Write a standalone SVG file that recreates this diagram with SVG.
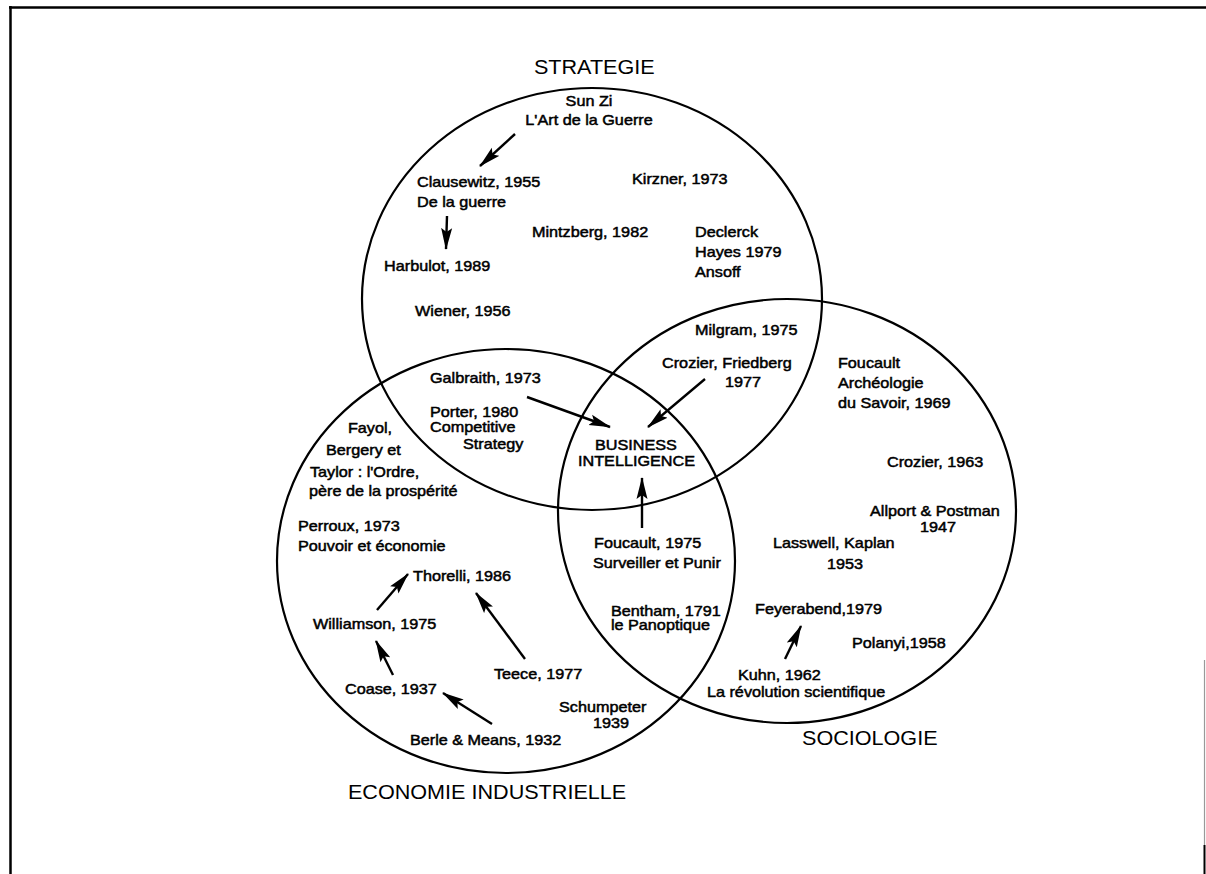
<svg xmlns="http://www.w3.org/2000/svg" width="1206" height="874" viewBox="0 0 1206 874">
  <style>
    .frame { stroke: #000; stroke-width: 2.5; fill: none; }
    .domain { fill: none; stroke: #000; stroke-width: 2.2; }
    .title { font-family: "Liberation Sans", Arial, sans-serif; font-size: 20px; fill: #000; }
    .lbl { font-family: "Liberation Sans", Arial, sans-serif; font-size: 15px; fill: #000; stroke: #000; stroke-width: 0.5; }
    .mid { text-anchor: middle; }
    .link { stroke: #000; stroke-width: 2.4; fill: none; marker-end: url(#head); }
  </style>
  <defs>
    <marker id="head" markerUnits="userSpaceOnUse" markerWidth="22" markerHeight="12" refX="21" refY="6" orient="auto">
      <path d="M0,0.5 L22,6 L0,11.5 L4,6 Z" fill="#000"/>
    </marker>
  </defs>

  <rect width="1206" height="874" fill="#fff"/>

  <!-- page frame -->
  <g id="frame">
    <line class="frame" x1="9" y1="7.5" x2="1206" y2="7.5"/>
    <line class="frame" x1="10.5" y1="6" x2="10.5" y2="874"/>
    <line x1="1204.5" y1="660" x2="1204.5" y2="845" stroke="#999" stroke-width="1.2"/>
    <line x1="1204.5" y1="845" x2="1204.5" y2="874" stroke="#000" stroke-width="2"/>
  </g>

  <!-- the three fields -->
  <g id="strategie">
    <ellipse class="domain" cx="592" cy="299" rx="230" ry="211"/>
  </g>
  <g id="economie">
    <ellipse class="domain" cx="506" cy="561" rx="229" ry="212"/>
  </g>
  <g id="sociologie">
    <ellipse class="domain" cx="787" cy="511" rx="229" ry="212"/>
  </g>

  <!-- influence arrows -->
  <g id="connectors">
    <line class="link" x1="515" y1="134" x2="480" y2="166"/>
    <line class="link" x1="447" y1="216" x2="446" y2="249"/>
    <line class="link" x1="527" y1="397" x2="610" y2="427"/>
    <line class="link" x1="705" y1="379" x2="648" y2="427"/>
    <line class="link" x1="642" y1="528" x2="642" y2="478"/>
    <line class="link" x1="377" y1="610" x2="408" y2="574"/>
    <line class="link" x1="525" y1="659" x2="476" y2="593"/>
    <line class="link" x1="393" y1="675" x2="376" y2="641"/>
    <line class="link" x1="492" y1="724" x2="443" y2="693"/>
    <line class="link" x1="785" y1="659" x2="801" y2="626"/>
  </g>

  <!-- labels, set in a slightly widened face -->
  <g id="labels" transform="scale(1.08 1)">
    <g id="t-strategie"><text class="title" x="494.4" y="74">STRATEGIE</text></g>
    <g id="t-economie"><text class="title" x="322.2" y="799">ECONOMIE INDUSTRIELLE</text></g>
    <g id="t-sociologie"><text class="title" x="742.6" y="745">SOCIOLOGIE</text></g>

    <g id="sunzi">
      <text class="lbl mid" x="545.4" y="106">Sun Zi</text>
      <text class="lbl mid" x="545.4" y="125">L'Art de la Guerre</text>
    </g>
    <g id="clausewitz">
      <text class="lbl" x="386.1" y="187">Clausewitz, 1955</text>
      <text class="lbl" x="386.1" y="207">De la guerre</text>
    </g>
    <g id="kirzner"><text class="lbl" x="585.2" y="184">Kirzner, 1973</text></g>
    <g id="mintzberg"><text class="lbl" x="492.6" y="237">Mintzberg, 1982</text></g>
    <g id="declerck">
      <text class="lbl" x="643.5" y="237">Declerck</text>
      <text class="lbl" x="643.5" y="257">Hayes 1979</text>
      <text class="lbl" x="643.5" y="277">Ansoff</text>
    </g>
    <g id="harbulot"><text class="lbl" x="355.6" y="271">Harbulot, 1989</text></g>
    <g id="wiener"><text class="lbl" x="384.3" y="316">Wiener, 1956</text></g>
    <g id="milgram"><text class="lbl" x="643.5" y="335">Milgram, 1975</text></g>
    <g id="crozier-friedberg">
      <text class="lbl" x="613" y="368">Crozier, Friedberg</text>
      <text class="lbl" x="671.3" y="387">1977</text>
    </g>
    <g id="galbraith"><text class="lbl" x="398.1" y="383">Galbraith, 1973</text></g>
    <g id="porter">
      <text class="lbl" x="398.1" y="417">Porter, 1980</text>
      <text class="lbl" x="398.1" y="432">Competitive</text>
      <text class="lbl" x="428.7" y="449">Strategy</text>
    </g>
    <g id="fayol">
      <text class="lbl" x="322.2" y="433">Fayol,</text>
      <text class="lbl" x="301.9" y="455">Bergery et</text>
      <text class="lbl" x="287" y="477">Taylor : l'Ordre,</text>
      <text class="lbl" x="286.1" y="496">père de la prospérité</text>
    </g>
    <g id="business-intelligence">
      <text class="lbl" x="550.9" y="450">BUSINESS</text>
      <text class="lbl" x="535.2" y="466">INTELLIGENCE</text>
    </g>
    <g id="perroux">
      <text class="lbl" x="275.9" y="531">Perroux, 1973</text>
      <text class="lbl" x="275.9" y="551">Pouvoir et économie</text>
    </g>
    <g id="foucault-1975">
      <text class="lbl" x="550" y="548">Foucault, 1975</text>
      <text class="lbl" x="549.1" y="568">Surveiller et Punir</text>
    </g>
    <g id="thorelli"><text class="lbl" x="382.4" y="581">Thorelli, 1986</text></g>
    <g id="williamson"><text class="lbl" x="289.8" y="629">Williamson, 1975</text></g>
    <g id="bentham">
      <text class="lbl" x="565.7" y="616">Bentham, 1791</text>
      <text class="lbl" x="565.7" y="630">le Panoptique</text>
    </g>
    <g id="teece"><text class="lbl" x="457.4" y="679">Teece, 1977</text></g>
    <g id="coase"><text class="lbl" x="319.4" y="694">Coase, 1937</text></g>
    <g id="schumpeter">
      <text class="lbl" x="517.6" y="712">Schumpeter</text>
      <text class="lbl" x="549.1" y="728">1939</text>
    </g>
    <g id="berle-means"><text class="lbl" x="379.6" y="745">Berle &amp; Means, 1932</text></g>
    <g id="foucault-1969">
      <text class="lbl" x="775.9" y="368">Foucault</text>
      <text class="lbl" x="775.9" y="388">Archéologie</text>
      <text class="lbl" x="775.9" y="408">du Savoir, 1969</text>
    </g>
    <g id="crozier-1963"><text class="lbl" x="821.3" y="467">Crozier, 1963</text></g>
    <g id="allport-postman">
      <text class="lbl" x="805.6" y="516">Allport &amp; Postman</text>
      <text class="lbl" x="851.9" y="532">1947</text>
    </g>
    <g id="lasswell-kaplan">
      <text class="lbl" x="715.7" y="548">Lasswell, Kaplan</text>
      <text class="lbl" x="765.7" y="569">1953</text>
    </g>
    <g id="feyerabend"><text class="lbl" x="699.1" y="614">Feyerabend,1979</text></g>
    <g id="polanyi"><text class="lbl" x="788.9" y="648">Polanyi,1958</text></g>
    <g id="kuhn">
      <text class="lbl" x="683.3" y="680">Kuhn, 1962</text>
      <text class="lbl" x="654.6" y="697">La révolution scientifique</text>
    </g>
  </g>
</svg>
